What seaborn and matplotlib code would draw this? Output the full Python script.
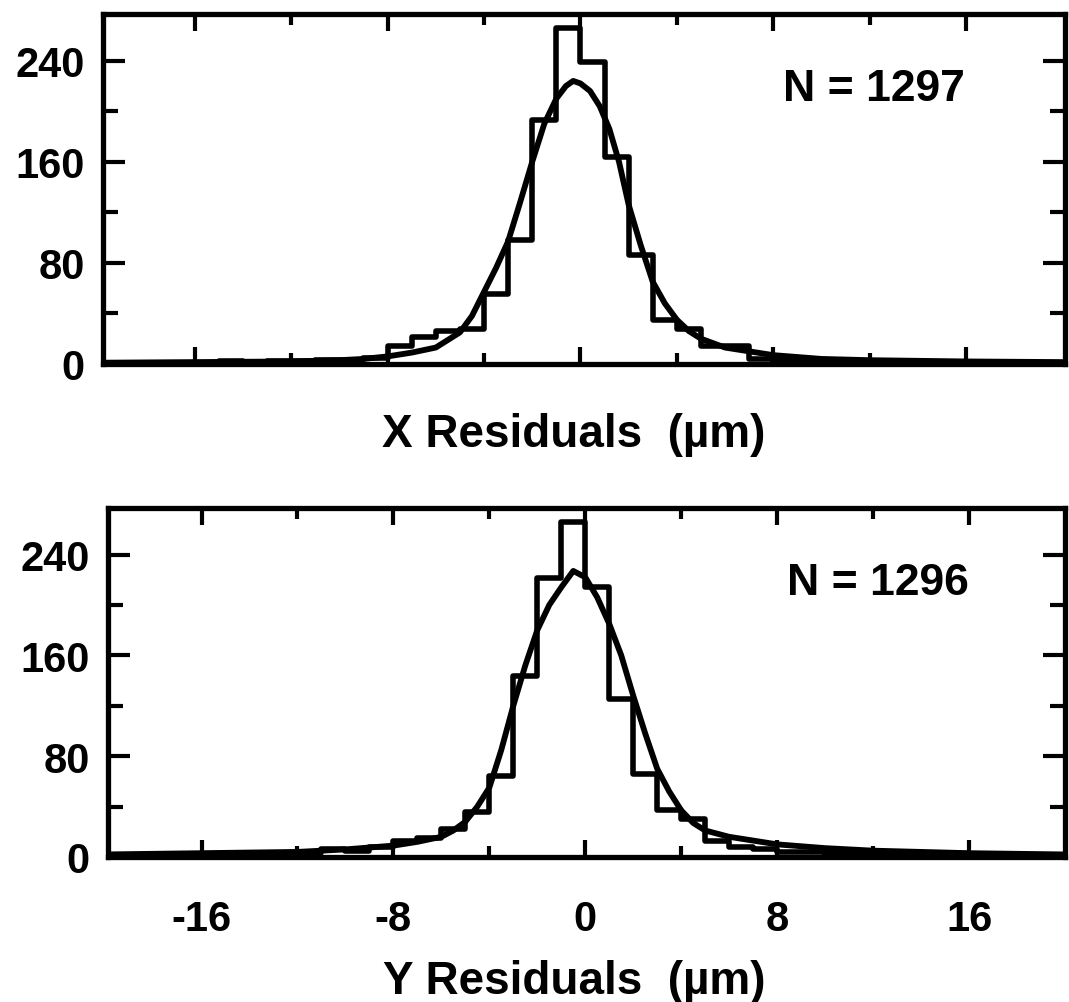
import numpy as np
import pandas as pd
import matplotlib
matplotlib.use("Agg")
import matplotlib.pyplot as plt
import seaborn as sns

# bin left edges (1 um wide bins from -20 to 20)
bin_edges = list(range(-20, 21))
bin_left = bin_edges[:-1]

# X residual histogram counts
x_counts = [0, 1, 0, 1, 1, 2, 1, 2, 2, 3, 3,
            5, 14, 21, 26, 28, 55, 98, 193, 266, 239, 164, 86, 35, 28, 14, 14, 4,
            3, 2, 2, 1, 1, 1, 1, 1, 0, 1, 0, 0]
# Y residual histogram counts
y_counts = [0, 1, 1, 2, 1, 2, 2, 3, 3, 6, 5,
            8, 13, 15, 22, 36, 64, 144, 221, 266, 214, 125, 66, 37, 30, 13, 8, 6,
            4, 4, 3, 3, 2, 3, 2, 2, 2, 2, 1, 1]

# fitted curves
x_fit_x = [-20, -16, -12, -10, -9, -8, -7, -6, -5, -4.5, -4, -3.5, -3, -2.5, -2, -1.5,
           -1, -0.6, -0.3, 0, 0.4, 0.8, 1.2, 1.6, 2, 2.5, 3, 3.5, 4, 4.5, 5, 6, 7, 8,
           10, 12, 16, 20]
x_fit_y = [1, 1.5, 2, 3, 4, 6, 9, 13, 25, 38, 57, 76, 97, 128, 160, 190,
           210, 220, 224, 222, 216, 204, 186, 160, 126, 94, 65, 48, 35, 26, 20, 13, 10, 7,
           4, 3, 2, 1.5]
y_fit_x = [-20, -16, -12, -10, -8, -7, -6, -5.5, -5, -4.5, -4, -3.5, -3, -2.5, -2, -1.5,
           -1, -0.5, 0, 0.5, 1, 1.5, 2, 2.5, 3, 3.5, 4, 4.5, 5, 6, 7, 8, 10, 12, 16, 20]
y_fit_y = [2, 3, 4, 6, 9, 12, 16, 21, 28, 40, 55, 85, 120, 152, 180, 200,
           214, 227, 222, 206, 185, 160, 128, 98, 70, 52, 37, 27, 21, 16, 13, 10, 7, 5, 3, 2]

panels = [("X Residuals  (\u00b5m)", "N = 1297", x_counts, x_fit_x, x_fit_y),
          ("Y Residuals  (\u00b5m)", "N = 1296", y_counts, y_fit_x, y_fit_y)]

sns.set_style("ticks")
plt.rcParams['font.family'] = ['Liberation Sans', 'DejaVu Sans']
plt.rcParams['font.weight'] = 'bold'
plt.rcParams['axes.unicode_minus'] = False
plt.rcParams['text.color'] = 'black'

fig = plt.figure(figsize=(10.69, 10.03), dpi=100)
ax_top = fig.add_axes([0.0964, 0.6361, 0.8999, 0.3490])
ax_bot = fig.add_axes([0.1010, 0.1446, 0.8952, 0.3480])
axes = [ax_top, ax_bot]
xlims = [(-19.8, 20.1), (-19.9, 20.0)]
label_y = [0.566, 0.021]

for i, (ax, (xlabel, ntext, counts, fx, fy)) in enumerate(zip(axes, panels)):
    df = pd.DataFrame({"left": bin_left, "count": counts})
    df["center"] = df["left"] + 0.5
    sns.histplot(data=df, x="center", weights="count", bins=bin_edges,
                 element="step", fill=False, color="black", linewidth=4, ax=ax)
    sns.lineplot(x=fx, y=fy, color="black", linewidth=4.2, ax=ax,
                 estimator=None, sort=False)

    ax.set_xlim(*xlims[i])
    ax.set_ylim(0, 277)
    ax.set_xticks([-16, -8, 0, 8, 16])
    ax.set_xticks([-12, -4, 4, 12], minor=True)
    ax.set_yticks([0, 80, 160, 240])
    ax.set_yticks([40, 120, 200], minor=True)
    ax.set_xlabel("")
    ax.set_ylabel("")
    for s in ax.spines.values():
        s.set_visible(True)
        s.set_linewidth(3.8)
        s.set_color("black")
    ax.tick_params(axis="both", which="both", direction="in", top=True, right=True,
                   width=3, colors="black", labelsize=30)
    ax.tick_params(axis="y", which="major", length=16, pad=13)
    ax.tick_params(axis="y", which="minor", length=11)
    ax.tick_params(axis="x", which="major", length=12, pad=30)
    ax.tick_params(axis="x", which="minor", length=8)
    if i == 0:
        ax.tick_params(axis="x", labelbottom=False)
    for lab in ax.get_xticklabels() + ax.get_yticklabels():
        lab.set_fontweight("bold")

    ax.text(8.4, 218, ntext, fontsize=32, fontweight="bold", color="black",
            ha="left", va="center")
    fig.text(0.537, label_y[i], xlabel, fontsize=33, fontweight="bold", color="black",
             ha="center", va="center")

fig.savefig("out.png", dpi=100, facecolor="white")
